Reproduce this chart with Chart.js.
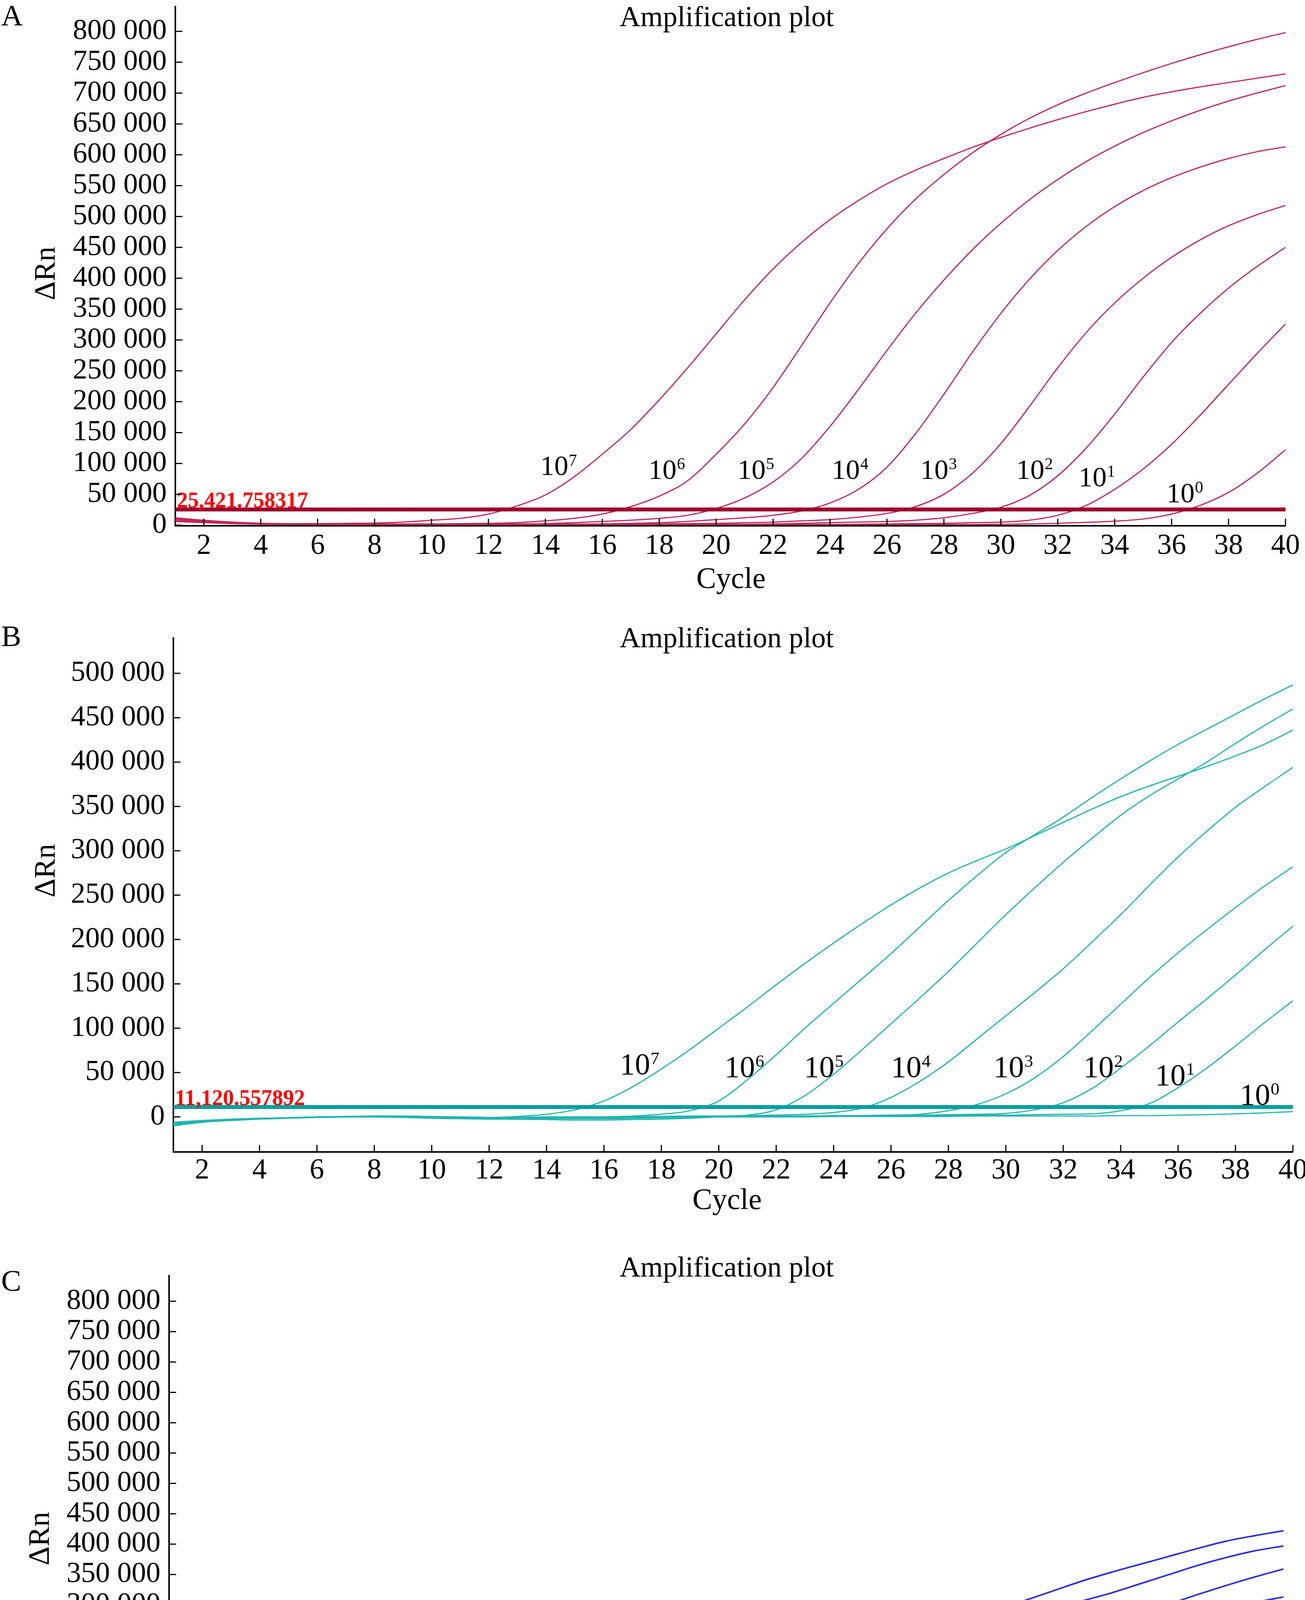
<!DOCTYPE html>
<html>
<head>
<meta charset="utf-8">
<title>Amplification plots</title>
<script src="https://cdn.jsdelivr.net/npm/chart.js@4.4.1/dist/chart.umd.min.js"></script>
<style>
  html, body { margin: 0; padding: 0; background: #fff; }
  body { width: 3342px; height: 4766px; position: relative; overflow: hidden; }
  canvas { position: absolute; left: 0; }
</style>
</head>
<body>
<canvas id="plotA" width="3342" height="1560" style="top:0px"></canvas>
<canvas id="plotB" width="3342" height="1590" style="top:1560px"></canvas>
<canvas id="plotC" width="3342" height="1616" style="top:3150px"></canvas>
<script>
// ---- data ----
const cycles = [1,2,3,4,5,6,7,8,9,10,11,12,13,14,15,16,17,18,19,20,
                21,22,23,24,25,26,27,28,29,30,31,32,33,34,35,36,37,38,39,40];
const dilutionExp = ['7','6','5','4','3','2','1','0'];
const xTicks = [2,4,6,8,10,12,14,16,18,20,22,24,26,28,30,32,34,36,38,40];
const yTicksA = [0,50000,100000,150000,200000,250000,300000,350000,400000,
                 450000,500000,550000,600000,650000,700000,750000,800000];
const yTicksB = [0,50000,100000,150000,200000,250000,300000,350000,400000,450000,500000];
const yTicksC = yTicksA;

const thresholdA = 25421.758317;
const thresholdB = 11120.557892;
const thresholdC = 11350.568728;

// delta Rn in thousands, one array per dilution (10^7 ... 10^0)
const panelA_1e7 = [11,7,4.5,3,2.5,2.5,3,3.5,5,8,11,18,31,49,78,115,155,203,255,310,365,415,458,495,526,553,575,594,612,628,643,657,670,682,693,702,710,717,724,731];
const panelA_1e6 = [12,8,5,3,2,2,2,2,2,2,2.5,3,4,7,11,18,30,47,72,115,164,223,291,360,424,480,528,568,603,633,659,681,700,717,733,748,762,775,787,798];
const panelA_1e5 = [9,6,4,2.5,1.5,1.5,1.5,1.5,1.5,1.5,1.5,1.5,2,2.5,4,6,8,11,16,27,44,70,108,160,220,283,343,397,446,489,527,560,589,614,636,655,672,687,700,712];
const panelA_1e4 = [10,6.5,4,2.5,1.5,1,1,1,1,1,1,1,1,1,1.5,2,3,4,6,9,12,16,23,36,58,94,148,212,280,343,398,445,484,516,542,563,580,594,605,613];
const panelA_1e3 = [8,5,3,2,1.5,1.5,1.5,1.5,1.5,1.5,1.5,1.5,1.5,1.5,1.5,1.5,1.5,2,2.5,3,4,5,7,9,13,19,30,50,84,132,192,255,312,360,400,434,462,485,503,518];
const panelA_1e2 = [9,5.5,3.5,2,1.5,1.5,1.5,1.5,1.5,1.5,1.5,1.5,1.5,1.5,1.5,1.5,1.5,1.5,1.5,1.5,1.5,2,3,4,5,6,8,12,19,29,48,80,125,180,240,296,343,384,419,450];
const panelA_1e1 = [7,4.5,3,2,1.5,1,1,1,1,1,1,1,1,1,1,1,1,1,1,1,1,1,1,1,1.5,2,2.5,3,4,5,8,16,32,58,91,131,178,228,278,326];
const panelA_1e0 = [6,4,2.5,1.5,1,1,1,1,1,1,1,1,1,1,1,1,1,1,1,1,1,1,1,1,1,1,1,1,1,1.5,2,3,4.5,6.5,10,18,32,53,84,122];

const panelB_1e7 = [-8,-5,-3,-2,-1,-0.5,0,0.5,0.5,0,-0.5,-0.5,0.5,3,8,18,34,54,76,100,124,149,173,196,218,239,258,275,289,302,317,332,347,361,373,384,395,407,420,436];
const panelB_1e6 = [-10,-6,-4,-2.5,-1.5,-0.5,0,0.5,0,-1,-1.5,-2,-2,-1.5,-1,0,1,3,7,18,42,70,100,128,156,184,214,244,272,298,318,338,360,381,401,420,437,454,471,487];
const panelB_1e5 = [-7,-4.5,-3,-2,-1,-0.5,0,0,-0.5,-1.5,-2,-2,-2.5,-3,-3.5,-3.5,-3,-2.5,-1.5,0,2,8,24,48,76,105,134,164,196,228,258,287,314,340,362,381,400,421,441,460];
const panelB_1e4 = [-9,-5.5,-3.5,-2,-1,0,0.5,1,0.5,-0.5,-1,-1,-0.5,0,0,0,0.5,0.5,1,1,1.5,2,3,5,10,22,40,62,88,114,140,167,197,228,261,293,322,349,372,394];
const panelB_1e3 = [-6,-4,-2.5,-1.5,-1,0,0.5,0.5,0,-1,-2,-2.5,-2.5,-2,-1.5,-1,-1,-0.5,0,0,0.5,0.5,1,1,1.5,2,3,7,14,26,44,68,97,127,157,185,211,236,260,282];
const panelB_1e2 = [-8,-5,-3,-2,-1,-0.5,0,0,-0.5,-1,-1.5,-1.5,-1,-0.5,0,0,0,0.5,0.5,0.5,1,1,1,1.5,1.5,2,2,2.5,3,4,8,16,32,55,80,107,133,160,188,215];
const panelB_1e1 = [-10,-6,-3.5,-2,-1,0,0.5,1,1,0.5,0,-0.5,-1,-1.5,-2,-2,-1.5,-1,-0.5,0,0,0.5,0.5,1,1,1,1.5,1.5,2,2,2.5,3,3.5,7,15,33,55,80,106,131];
const panelB_1e0 = [-7,-4.5,-3,-2,-1,-0.5,0,0,0,-0.5,-1,-1,-1,-1,-0.5,-0.5,0,0,0,0,0,0,0,0.5,0.5,0.5,0.5,0.5,1,1,1,1,1,1.5,1.5,2,2.5,3.5,4.5,6];

const panelC_1e7 = [1,1,1,1,1,1,1,1,1,1,1,1,1.5,3,6,16,32,52,78,103,126,149,172,195,216,235,251,265,279,293,308,324,340,354,367,380,393,405,414,422];
const panelC_1e6 = [1.5,1.5,1.5,1.5,1.5,1.5,1.5,1.5,1.5,1.5,1.5,1.5,1.5,1.5,2,2,3,7,16,29,48,70,95,121,146,171,197,222,245,264,280,294,307,320,335,350,365,378,389,397];
const panelC_1e5 = [0.5,0.5,0.5,0.5,0.5,0.5,0.5,0.5,0.5,0.5,0.5,0.5,0.5,0.5,0.5,1,1,1,1.5,2,3,8,16,29,47,71,100,129,155,179,202,224,245,265,284,301,317,332,346,359];
const panelC_1e4 = [1,1,1,1,1,1,1,1,1,1,1,1,1,1,1,1,1,1,1,1,1,1,1.5,3,8,18,33,54,83,114,141,168,196,222,243,261,278,293,304,313];
const panelC_1e3 = [0.5,0.5,0.5,0.5,0.5,0.5,0.5,0.5,0.5,0.5,0.5,0.5,0.5,0.5,0.5,0.5,0.5,0.5,0.5,0.5,0.5,0.5,0.5,0.5,1,1.5,3,6,13,25,44,69,98,127,153,177,196,213,226,237];
const panelC_1e2 = [1,1,1,1,1,1,1,1,1,1,1,1,1,1,1,1,1,1,1,1,1,1,1,1,1,1,1,1,1.5,2,4,9,20,36,60,88,116,142,160,174];
const panelC_1e1 = [0.5,0.5,0.5,0.5,0.5,0.5,0.5,0.5,0.5,0.5,0.5,0.5,0.5,0.5,0.5,0.5,0.5,0.5,0.5,0.5,0.5,0.5,0.5,0.5,0.5,0.5,0.5,0.5,0.5,0.5,0.5,0.5,2,5,12,26,46,70,97,124];
const panelC_1e0 = [1,1,1,1,1,1,1,1,1,1,1,1,1,1,1,1,1,1,1,1,1,1,1,1,1,1,1,1,1,1,1,1,1,1,1,1,0.5,1.5,9,23.5];

// where the 10^n tags sit, in (cycle, thousands) space
const tagCyclesA = [13.82,17.62,20.75,24.06,27.17,30.54,32.73,35.82];
const tagValuesA = [81,75,75,75,75,75,63,37];
const tagCyclesB = [16.55,20.2,22.97,26.0,29.57,32.7,35.2,38.15];
const tagValuesB = [48,45,45,45,45,45,36,13.6];
const tagCyclesC = [17.04,20.07,24.23,26.83,30.06,34.02,35.94,38.37];
const tagValuesC = [62,56,56,56,56,56,43,21];

// ---- drawing ----
const SERIF = '"Liberation Serif", "Times New Roman", serif';
Chart.defaults.font.family = SERIF;
Chart.defaults.color = '#000';

function spaced(v) {
  return String(v).replace(/\B(?=(\d{3})+(?!\d))/g, ' ');
}

// tick marks point into the plot area
const innerTicks = {
  id: 'innerTicks',
  afterDraw(chart) {
    const { ctx, chartArea } = chart;
    const xs = chart.scales.x, ys = chart.scales.y;
    ctx.save();
    ctx.strokeStyle = '#000';
    ctx.lineWidth = 3;
    ctx.beginPath();
    xs.ticks.forEach(t => {
      const px = xs.getPixelForValue(t.value);
      ctx.moveTo(px, chartArea.bottom);
      ctx.lineTo(px, chartArea.bottom - 18);
    });
    ys.ticks.forEach(t => {
      const py = ys.getPixelForValue(t.value);
      ctx.moveTo(chartArea.left, py);
      ctx.lineTo(chartArea.left + 18, py);
    });
    ctx.stroke();
    ctx.restore();
  }
};

const panelText = {
  id: 'panelText',
  afterDatasetsDraw(chart, args, o) {
    const { ctx, chartArea } = chart;
    const xs = chart.scales.x, ys = chart.scales.y;
    ctx.save();
    ctx.fillStyle = '#000';
    ctx.textBaseline = 'alphabetic';

    ctx.textAlign = 'left';
    ctx.font = '77px ' + SERIF;
    ctx.fillText(o.letter, o.letterPos[0], o.letterPos[1]);

    ctx.textAlign = 'center';
    ctx.font = '74px ' + SERIF;
    ctx.fillText('Amplification plot', o.titlePos[0], o.titlePos[1]);

    ctx.font = '76px ' + SERIF;
    ctx.fillText('Cycle', o.cyclePos[0], o.cyclePos[1]);

    ctx.save();
    ctx.translate(o.yTitlePos[0], o.yTitlePos[1]);
    ctx.rotate(-Math.PI / 2);
    ctx.fillText('\u0394Rn', 0, 0);
    ctx.restore();

    ctx.textAlign = 'left';
    o.tagCycles.forEach((c, i) => {
      const px = xs.getPixelForValue(c);
      const py = ys.getPixelForValue(o.tagValues[i] * 1000);
      ctx.font = o.tagSize + 'px ' + SERIF;
      ctx.fillText('10', px, py);
      const w = ctx.measureText('10').width;
      ctx.font = Math.round(o.tagSize * 0.58) + 'px ' + SERIF;
      ctx.fillText(dilutionExp[i], px + w + 1, py - o.tagSize * 0.34);
    });

    ctx.fillStyle = '#ff0000';
    ctx.font = 'bold 56px ' + SERIF;
    ctx.fillText(o.thresholdText, chartArea.left + 4, ys.getPixelForValue(o.threshold) - 5);
    ctx.restore();
  }
};

function makePanel(p) {
  const canvas = document.getElementById(p.id);
  const W = canvas.width, H = canvas.height;
  const datasets = [{
    data: [{ x: 1, y: p.threshold }, { x: 40, y: p.threshold }],
    borderColor: p.thresholdColor,
    borderWidth: 10,
    pointRadius: 0
  }];
  p.series.forEach(s => {
    datasets.push({
      data: cycles.map((c, i) => ({ x: c, y: s[i] * 1000 })),
      borderColor: p.curveColor,
      borderWidth: p.curveWidth,
      pointRadius: 0,
      cubicInterpolationMode: 'monotone'
    });
  });

  return new Chart(canvas, {
    type: 'line',
    data: { datasets },
    plugins: [innerTicks, panelText],
    options: {
      responsive: false,
      devicePixelRatio: 1,
      animation: false,
      events: [],
      layout: { padding: { left: 0, top: p.area.top, right: W - p.area.right, bottom: 0 } },
      plugins: {
        legend: { display: false },
        tooltip: { enabled: false },
        panelText: {
          letter: p.letter,
          letterPos: p.letterPos,
          titlePos: p.titlePos,
          cyclePos: p.cyclePos,
          yTitlePos: p.yTitlePos,
          tagCycles: p.tagCycles,
          tagValues: p.tagValues,
          tagSize: p.tagSize,
          threshold: p.threshold,
          thresholdText: p.thresholdText
        }
      },
      scales: {
        x: {
          type: 'linear',
          min: 1,
          max: 40,
          grid: { display: false, drawTicks: false },
          border: { display: true, color: '#000', width: 4 },
          ticks: {
            font: { size: 74 },
            padding: p.xTickPad,
            maxRotation: 0,
            autoSkip: false,
            callback: v => String(v)
          },
          afterBuildTicks: s => { s.ticks = xTicks.map(v => ({ value: v })); },
          afterFit: s => {
            s.height = H - p.area.bottom;
            s.paddingLeft = 0;
            s.paddingRight = 0;
          }
        },
        y: {
          type: 'linear',
          min: p.yMin,
          max: p.yMax,
          grid: { display: false, drawTicks: false },
          border: { display: true, color: '#000', width: 4 },
          ticks: {
            font: { size: 74 },
            padding: 22,
            autoSkip: false,
            callback: v => spaced(v)
          },
          afterBuildTicks: s => { s.ticks = p.yTicks.map(v => ({ value: v })); },
          afterFit: s => {
            s.width = p.area.left;
            s.paddingTop = 0;
            s.paddingBottom = 0;
          }
        }
      }
    }
  });
}

makePanel({
  id: 'plotA', letter: 'A',
  area: { left: 449, right: 3292, top: 17, bottom: 1346 },
  yMin: -1000, yMax: 840000, yTicks: yTicksA, xTickPad: 8,
  letterPos: [3, 65], titlePos: [1861, 67], cyclePos: [1872, 1505], yTitlePos: [140, 700],
  series: [panelA_1e7, panelA_1e6, panelA_1e5, panelA_1e4, panelA_1e3, panelA_1e2, panelA_1e1, panelA_1e0],
  curveColor: '#c4245c', curveWidth: 3, thresholdColor: '#9b002e',
  threshold: thresholdA, thresholdText: '25,421.758317',
  tagCycles: tagCyclesA, tagValues: tagValuesA, tagSize: 72
});

makePanel({
  id: 'plotB', letter: 'B',
  area: { left: 444, right: 3311, top: 73, bottom: 1389 },
  yMin: -39500, yMax: 540000, yTicks: yTicksB, xTickPad: 4,
  letterPos: [3, 94], titlePos: [1861, 97], cyclePos: [1862, 1535], yTitlePos: [140, 669],
  series: [panelB_1e7, panelB_1e6, panelB_1e5, panelB_1e4, panelB_1e3, panelB_1e2, panelB_1e1, panelB_1e0],
  curveColor: '#22b5b0', curveWidth: 3, thresholdColor: '#00a09e',
  threshold: thresholdB, thresholdText: '11,120.557892',
  tagCycles: tagCyclesB, tagValues: tagValuesB, tagSize: 78
});

makePanel({
  id: 'plotC', letter: 'C',
  area: { left: 433, right: 3287, top: 116, bottom: 1427 },
  yMin: -1500, yMax: 842000, yTicks: yTicksC, xTickPad: 12,
  letterPos: [3, 154], titlePos: [1861, 118], cyclePos: [1850, 1574], yTitlePos: [125, 789],
  series: [panelC_1e7, panelC_1e6, panelC_1e5, panelC_1e4, panelC_1e3, panelC_1e2, panelC_1e1, panelC_1e0],
  curveColor: '#2a2ae6', curveWidth: 4, thresholdColor: '#0000cd',
  threshold: thresholdC, thresholdText: '11,350.568728',
  tagCycles: tagCyclesC, tagValues: tagValuesC, tagSize: 76
});
</script>
</body>
</html>
